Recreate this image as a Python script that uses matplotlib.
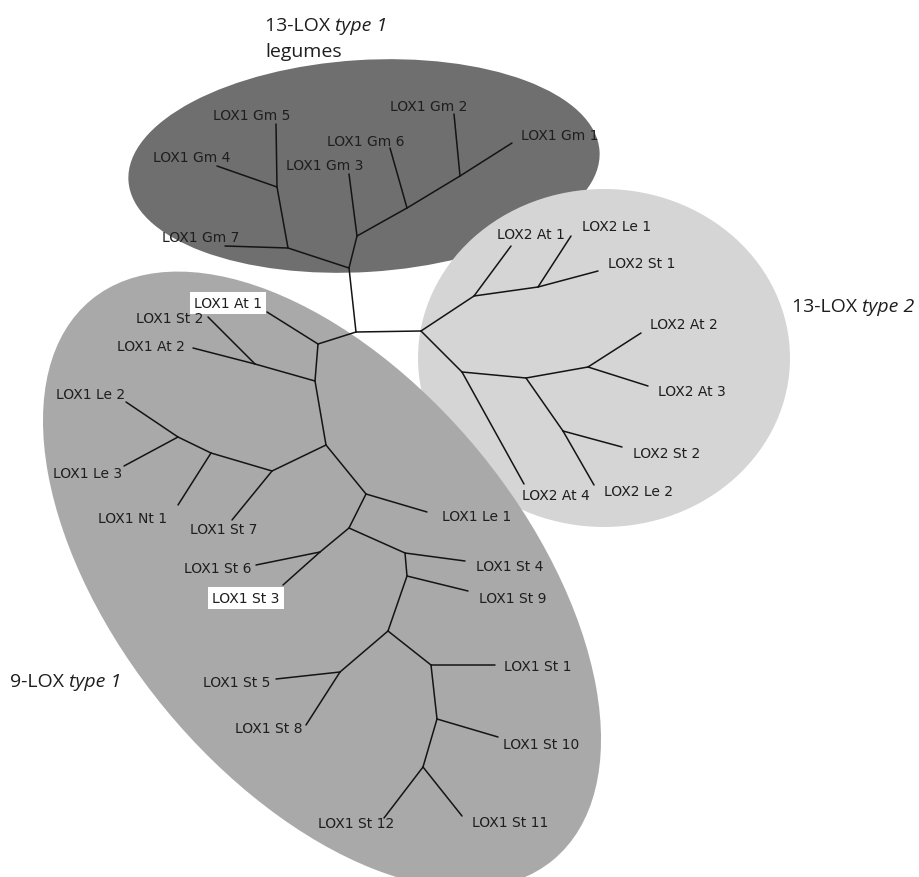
import matplotlib
matplotlib.use("Agg")
import matplotlib.pyplot as plt
from matplotlib.patches import Ellipse
from matplotlib.collections import LineCollection

W, H = 919, 878

# ---- tree nodes (layout coordinates, y pointing down) ----
node_names = [
    "center", "gm_root", "lox2_root", "lox9_root",
    # 13-LOX type 1 (legumes)
    "gm_a", "gm_45", "gm_b", "gm_c", "gm_d",
    "Gm5", "Gm4", "Gm7", "Gm3", "Gm6", "Gm2", "Gm1",
    # 13-LOX type 2
    "l2a", "l2b", "l2c", "l2d", "l2e", "l2f",
    "L2At1", "L2Le1", "L2St1", "L2At2", "L2At3", "L2St2", "L2Le2", "L2At4",
    # 9-LOX type 1
    "n9a", "n9b", "n9c", "n9d", "n9e", "n9f", "n9g", "n9h", "n9i", "n9j",
    "n9k", "n9l", "n9m", "n9n", "n9o", "n9p",
    "At1", "St2", "At2", "Le2", "Le3", "Nt1", "St7", "Le1", "St6", "St3",
    "St4", "St9", "St5", "St8", "St1", "St10", "St12", "St11",
]
node_x = [
    356, 349, 421, 318,
    288, 277, 357, 407, 460,
    276, 217, 225, 349, 390, 454, 512,
    474, 538, 462, 526, 588, 563,
    511, 571, 598, 641, 648, 622, 594, 524,
    315, 255, 326, 272, 211, 178, 366, 349, 320, 405,
    407, 388, 340, 431, 437, 423,
    267, 208, 193, 126, 124, 178, 232, 427, 256, 283,
    465, 468, 276, 306, 495, 498, 384, 462,
]
node_y = [
    333, 269, 332, 345,
    249, 188, 237, 209, 177,
    125, 167, 247, 175, 149, 115, 144,
    297, 288, 373, 379, 368, 432,
    247, 237, 272, 334, 387, 448, 486, 485,
    382, 365, 446, 472, 454, 438, 495, 529, 553, 554,
    577, 632, 673, 666, 720, 768,
    313, 318, 349, 403, 467, 506, 521, 513, 566, 586,
    562, 592, 680, 726, 666, 738, 819, 817,
]

edges = [
    ("center", "gm_root"), ("center", "lox2_root"), ("center", "lox9_root"),
    ("gm_root", "gm_a"), ("gm_a", "gm_45"), ("gm_45", "Gm5"), ("gm_45", "Gm4"),
    ("gm_a", "Gm7"), ("gm_root", "gm_b"), ("gm_b", "Gm3"), ("gm_b", "gm_c"),
    ("gm_c", "Gm6"), ("gm_c", "gm_d"), ("gm_d", "Gm2"), ("gm_d", "Gm1"),
    ("lox2_root", "l2a"), ("l2a", "L2At1"), ("l2a", "l2b"), ("l2b", "L2Le1"),
    ("l2b", "L2St1"), ("lox2_root", "l2c"), ("l2c", "L2At4"), ("l2c", "l2d"),
    ("l2d", "l2e"), ("l2e", "L2At2"), ("l2e", "L2At3"), ("l2d", "l2f"),
    ("l2f", "L2St2"), ("l2f", "L2Le2"),
    ("lox9_root", "At1"), ("lox9_root", "n9a"), ("n9a", "n9b"), ("n9b", "St2"),
    ("n9b", "At2"), ("n9a", "n9c"), ("n9c", "n9d"), ("n9d", "St7"),
    ("n9d", "n9e"), ("n9e", "Nt1"), ("n9e", "n9f"), ("n9f", "Le2"),
    ("n9f", "Le3"), ("n9c", "n9g"), ("n9g", "Le1"), ("n9g", "n9h"),
    ("n9h", "n9i"), ("n9i", "St6"), ("n9i", "St3"), ("n9h", "n9j"),
    ("n9j", "St4"), ("n9j", "n9k"), ("n9k", "St9"), ("n9k", "n9l"),
    ("n9l", "n9m"), ("n9m", "St5"), ("n9m", "St8"), ("n9l", "n9n"),
    ("n9n", "St1"), ("n9n", "n9o"), ("n9o", "St10"), ("n9o", "n9p"),
    ("n9p", "St12"), ("n9p", "St11"),
]

# ---- leaf labels ----
label_text = [
    "LOX1 Gm 5", "LOX1 Gm 4", "LOX1 Gm 7", "LOX1 Gm 3", "LOX1 Gm 6",
    "LOX1 Gm 2", "LOX1 Gm 1",
    "LOX2 At 1", "LOX2 Le 1", "LOX2 St 1", "LOX2 At 2", "LOX2 At 3",
    "LOX2 St 2", "LOX2 Le 2", "LOX2 At 4",
    "LOX1 At 1", "LOX1 St 2", "LOX1 At 2", "LOX1 Le 2", "LOX1 Le 3",
    "LOX1 Nt 1", "LOX1 St 7", "LOX1 Le 1", "LOX1 St 6", "LOX1 St 3",
    "LOX1 St 4", "LOX1 St 9", "LOX1 St 5", "LOX1 St 8", "LOX1 St 1",
    "LOX1 St 10", "LOX1 St 12", "LOX1 St 11",
]
label_x = [
    252, 192, 201, 325, 366, 429, 560,
    531, 617, 642, 684, 692, 667, 639, 556,
    228, 170, 151, 91, 88, 133, 224, 477, 218, 246,
    510, 513, 237, 269, 538, 541, 356, 510,
]
label_y = [
    116, 158, 238, 166, 142, 107, 136,
    235, 227, 264, 325, 392, 454, 492, 496,
    304, 319, 347, 395, 474, 519, 530, 517, 569, 599,
    567, 599, 683, 729, 667, 745, 824, 823,
]
boxed_labels = ["LOX1 At 1", "LOX1 St 3"]

# ---- group outlines: (center x, center y, width, height, angle, colour) ----
group_names = ["13-LOX type 1", "13-LOX type 2", "9-LOX type 1"]
group_shapes = [
    (364, 167, 472, 212, -3.6, "#6f6f6f"),
    (604, 359, 372, 338, 0.0, "#d5d5d5"),
    (322, 581, 726, 406, 50.5, "#a9a9a9"),
]

fig = plt.figure(figsize=(W / 100, H / 100), dpi=100)
ax = fig.add_axes([0, 0, 1, 1])
ax.set_xlim(0, W)
ax.set_ylim(H, 0)
ax.axis("off")

for z, (cx, cy, w, h, ang, col) in zip([1, 2, 3], group_shapes):
    ax.add_patch(Ellipse((cx, cy), w, h, angle=ang, facecolor=col,
                         edgecolor="none", zorder=z))

pos = {n: (x, y) for n, x, y in zip(node_names, node_x, node_y)}
segs = [[pos[a], pos[b]] for a, b in edges]
ax.add_collection(LineCollection(segs, colors="#141414", linewidths=1.1,
                                 zorder=5, capstyle="round"))

for t, x, y in zip(label_text, label_x, label_y):
    kw = {}
    if t in boxed_labels:
        kw["bbox"] = dict(boxstyle="square,pad=0.32", facecolor="white",
                          edgecolor="none")
    ax.text(x, y, t, ha="center", va="center", fontsize=10,
            family="DejaVu Sans", color="#1e1e1e", zorder=6, **kw)

# ---- group titles ----
title_font = dict(family="Open Sans", fontsize=14, color="#1e1e1e")


def two_part(x, y, plain, italic):
    t1 = ax.text(x, y, plain, ha="left", va="baseline", zorder=7, **title_font)
    ax.annotate(italic, xy=(1, 0), xycoords=t1, ha="left", va="bottom",
                style="italic", zorder=7, **title_font)


two_part(265, 31, "13-LOX ", "type 1")
ax.text(265, 57, "legumes", ha="left", va="baseline", zorder=7, **title_font)
two_part(792, 312, "13-LOX ", "type 2")
two_part(10, 687, "9-LOX ", "type 1")

fig.savefig("out.png", dpi=100)
